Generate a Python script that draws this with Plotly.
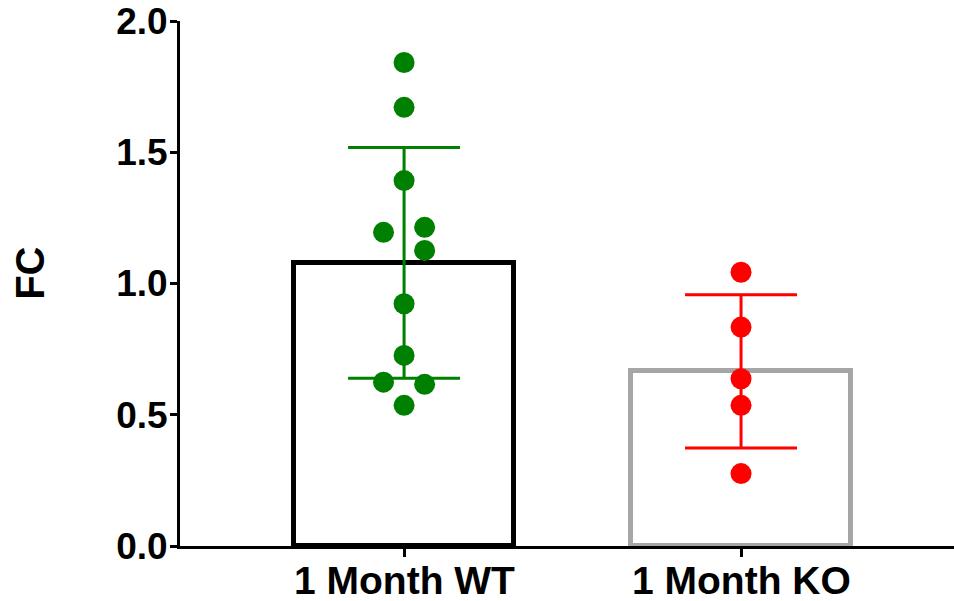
import statistics
import plotly.graph_objects as go

categories = ["1 Month WT", "1 Month KO"]
wt_values = [1.842, 1.671, 1.392, 1.195, 1.214, 1.126, 0.923, 0.726, 0.624, 0.616, 0.536]
wt_jitter = [0.0, 0.0, 0.0, -0.061, 0.061, 0.061, 0.0, 0.0, -0.061, 0.061, 0.0]
ko_values = [1.043, 0.834, 0.637, 0.536, 0.276]
ko_jitter = [0.0, 0.0, 0.0, 0.0, 0.0]
y_ticks = [0.0, 0.5, 1.0, 1.5, 2.0]
y_title = "FC"

groups = [(wt_values, wt_jitter), (ko_values, ko_jitter)]
means = [statistics.mean(v) for v, _ in groups]
sds = [statistics.stdev(v) for v, _ in groups]

point_colors = ["#008000", "#ff0000"]
bar_edges = ["#000000", "#a6a6a6"]
FONT = "Liberation Sans, Arial, sans-serif"

fig = go.Figure()

for i in range(2):
    fig.add_trace(go.Bar(
        x=[i], y=[means[i]], width=0.651,
        marker=dict(color="white", line=dict(color=bar_edges[i], width=5)),
        showlegend=False, hoverinfo="skip",
    ))

for i in range(2):
    fig.add_trace(go.Scatter(
        x=[i], y=[means[i]], mode="markers",
        marker=dict(size=1, color="rgba(0,0,0,0)"),
        error_y=dict(type="data", array=[sds[i]], color=point_colors[i],
                     thickness=3, width=56),
        showlegend=False, hoverinfo="skip",
    ))

for i, (vals, jit) in enumerate(groups):
    fig.add_trace(go.Scatter(
        x=[i + j for j in jit], y=vals, mode="markers",
        marker=dict(size=21, color=point_colors[i], line=dict(width=0)),
        showlegend=False, cliponaxis=False,
    ))

annotations = [dict(
    text=y_title, xref="paper", yref="paper", x=-0.194, y=0.52,
    textangle=-90, showarrow=False, xanchor="center", yanchor="middle",
    font=dict(family=FONT, size=40, color="black", weight="bold"),
)]
for i, cat in enumerate(categories):
    annotations.append(dict(
        text=cat, xref="x", yref="paper", x=i, y=-0.0657,
        showarrow=False, xanchor="center", yanchor="middle",
        font=dict(family=FONT, size=39, color="black", weight="bold"),
    ))

fig.update_layout(
    width=954, height=601,
    margin=dict(l=180, r=0, t=21, b=55),
    plot_bgcolor="white", paper_bgcolor="white",
    font=dict(family=FONT, color="black"),
    bargap=0,
    annotations=annotations,
)
fig.update_xaxes(
    range=[-0.665, 1.632], tickvals=[0, 1], showticklabels=False,
    showline=True, linewidth=3, linecolor="black",
    ticks="outside", ticklen=8, tickwidth=3, tickcolor="black",
    showgrid=False, zeroline=False, automargin=False,
)
fig.update_yaxes(
    range=[0, 2.0], tickvals=y_ticks, tickformat=".1f",
    showline=True, linewidth=3, linecolor="black",
    ticks="outside", ticklen=7, tickwidth=3, tickcolor="black",
    tickfont=dict(family=FONT, size=37, color="black", weight="bold"),
    ticklabelstandoff=-5,
    showgrid=False, zeroline=False, automargin=False,
)

fig.write_html("out.html")
